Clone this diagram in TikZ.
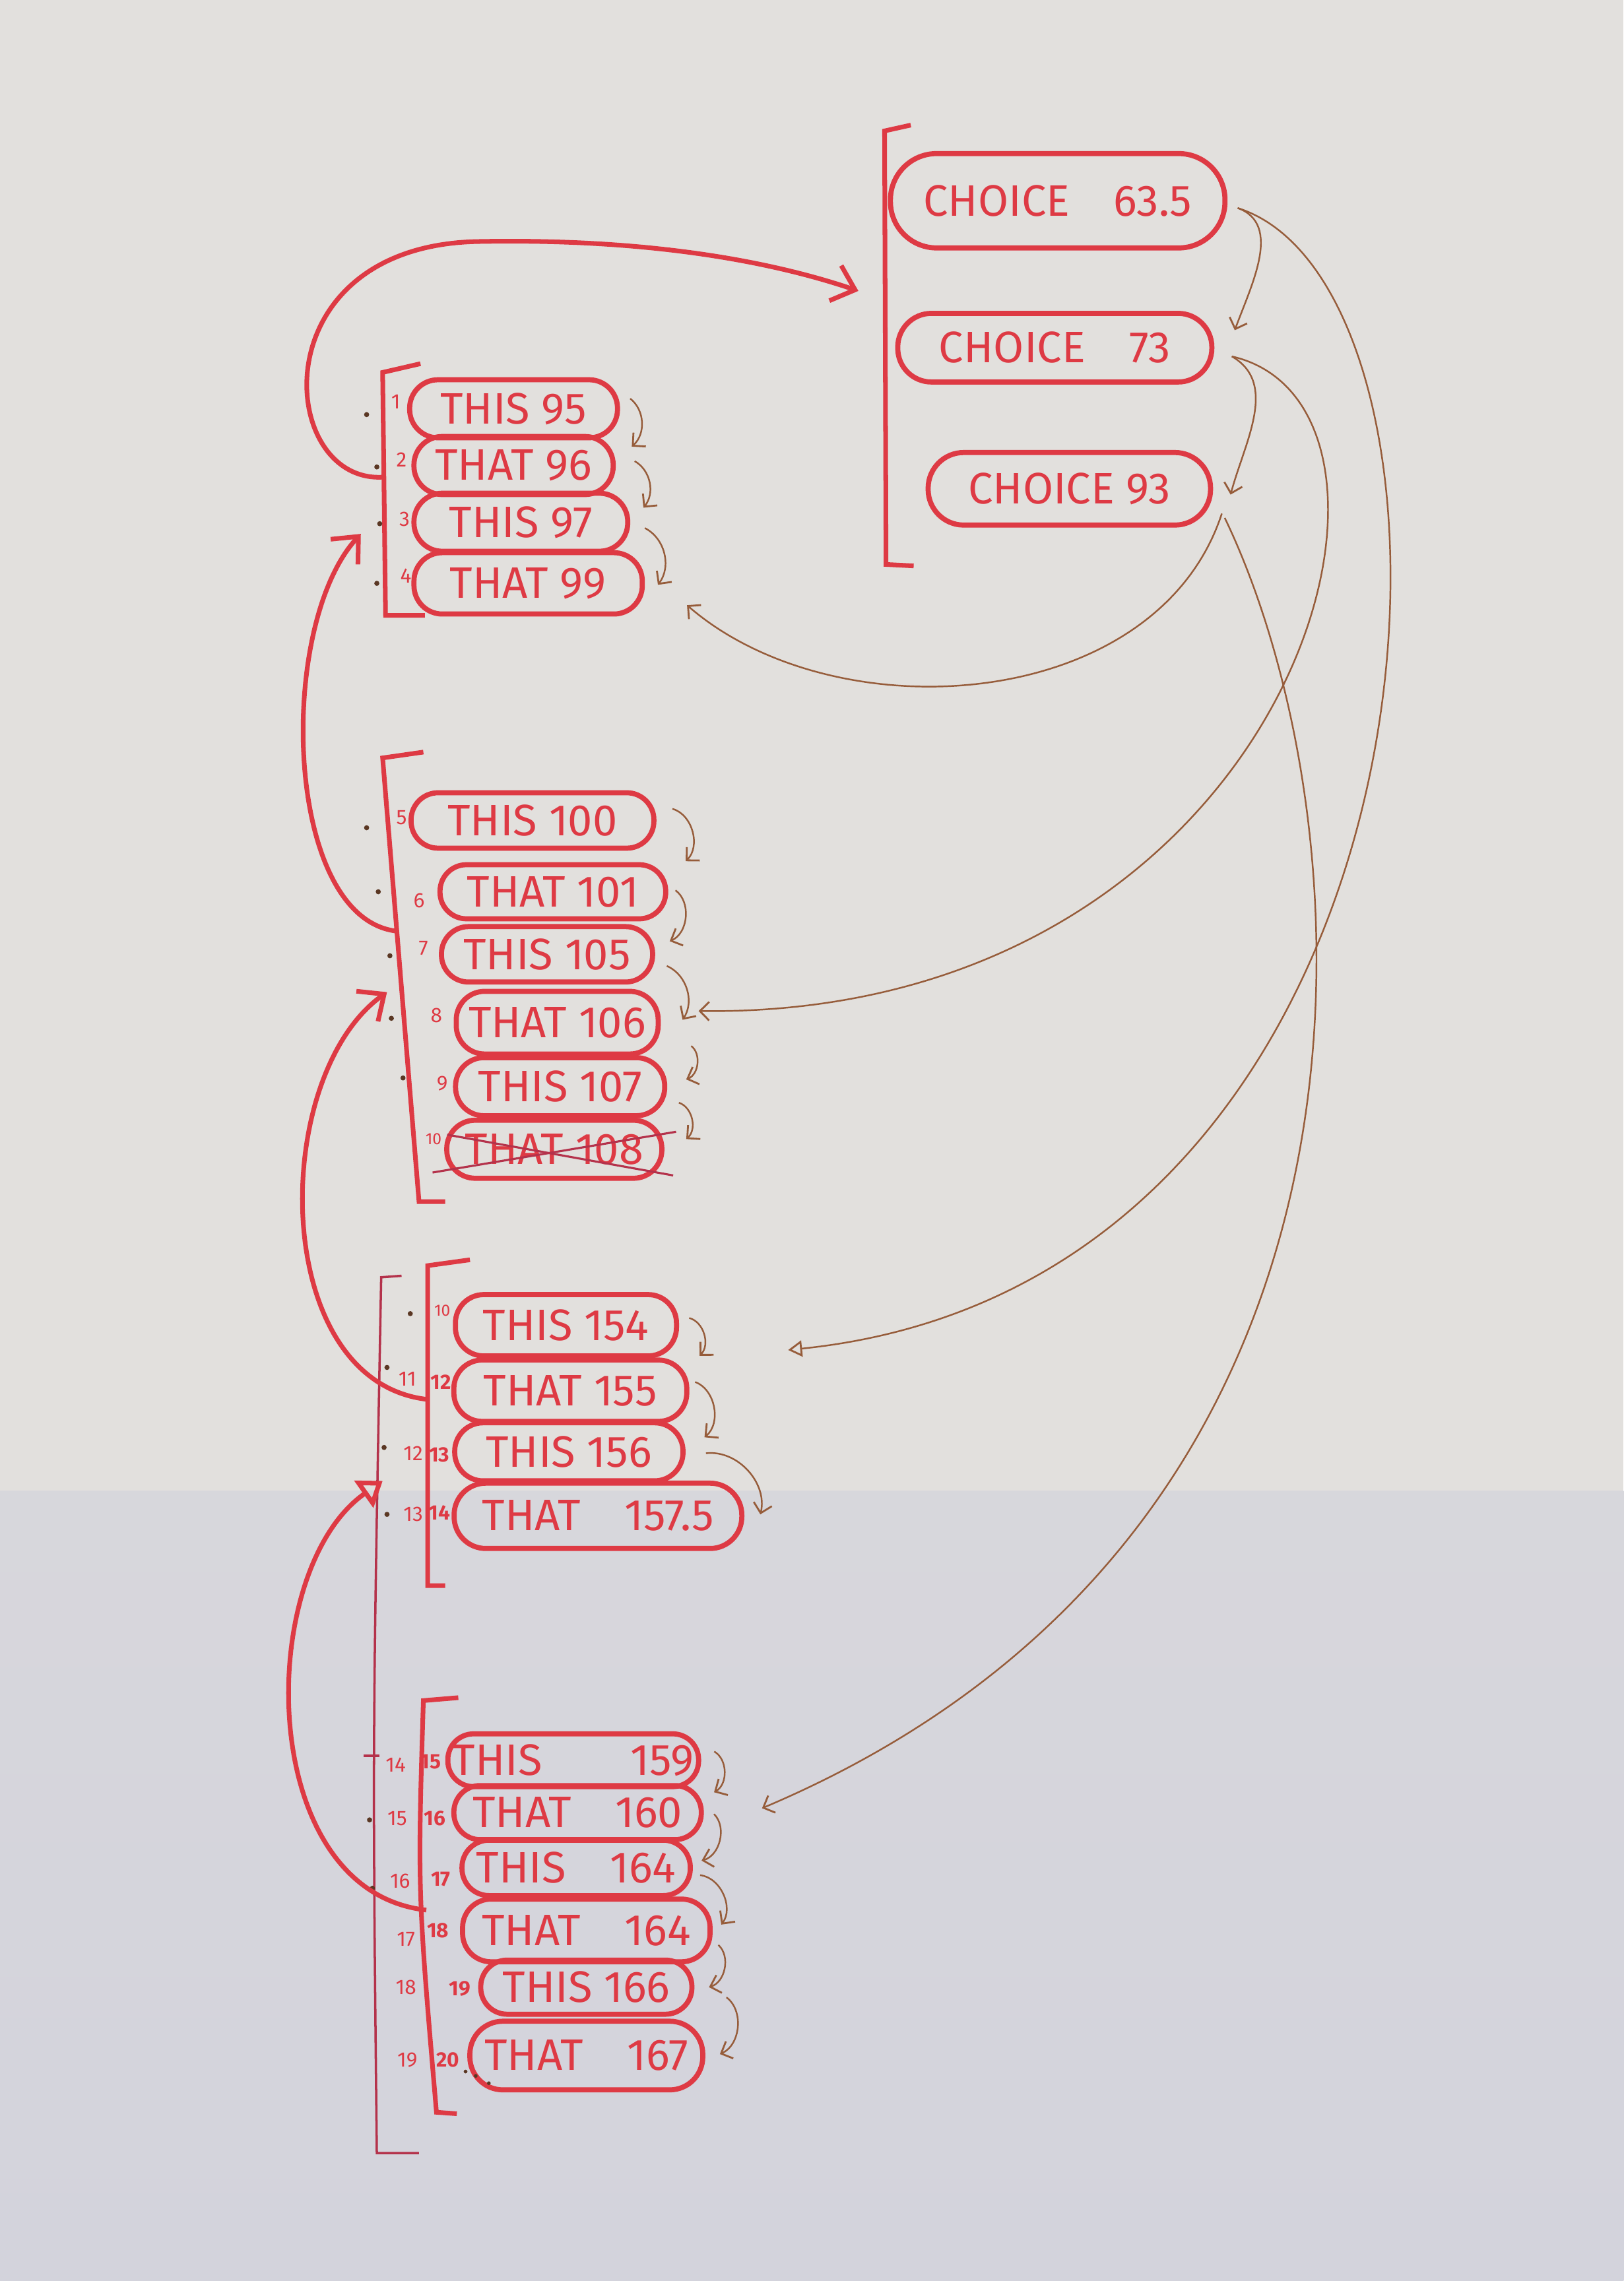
\documentclass[tikz,border=0pt]{standalone}
\usepackage{fontspec}
\setmainfont{Fira Sans}
\usetikzlibrary{arrows.meta, positioning}
\definecolor{penred}{RGB}{222,58,68}
\definecolor{inkred}{RGB}{180,50,75}
\definecolor{pencil}{RGB}{150,92,58}
\definecolor{paper}{RGB}{226,224,221}
\definecolor{paperlow}{RGB}{211,211,220}
\tikzset{
  oval/.style={
    rectangle,
    draw=penred,
    line width=2.2pt,
    rounded corners=0.43cm,
    text=penred,
    font=\fontsize{19}{22}\selectfont,
    minimum height=0.88cm,
    inner sep=2pt
  },
  bracket/.style={
    draw=penred,
    line width=2pt
  },
  bigarrow/.style={
    draw=penred,
    line width=2pt,
    -{Straight Barb[length=9pt,width=16pt,line width=2pt]}
  },
  seqarrow/.style={
    draw=pencil,
    line width=0.7pt,
    -{Straight Barb[length=4pt,width=8pt,line width=0.8pt]}
  },
  idx/.style={text=penred, font=\fontsize{9}{10}\selectfont, inner sep=0pt},
  pendot/.style={circle, fill=pencil!60!black, inner sep=0pt, minimum size=2.2pt}
}

\begin{document}
\begin{tikzpicture}[x=0.022043cm, y=-0.022043cm]
  \useasboundingbox (0,0) rectangle (1116,1568);
  % Paper
  \fill[paper] (0,0) rectangle (1116,1025);
  \shade[top color=paperlow!70!paper, bottom color=paperlow] (0,1025) rectangle (1116,1568);

  % Choices
  \node[oval, minimum width=5.07cm, minimum height=1.43cm, rounded corners=0.7cm] (c635) at (727,138) {CHOICE\quad 63.5};
  \node[oval, minimum width=4.76cm, minimum height=1.04cm, rounded corners=0.51cm] (c73) at (725,239) {CHOICE\quad 73};
  \node[oval, minimum width=4.28cm, minimum height=1.10cm, rounded corners=0.54cm] (c93) at (735,336) {CHOICE 93};

  % First list
  \node[oval, minimum width=3.15cm] (t95) at (353,281) {THIS 95};
  \node[oval, minimum width=3.02cm] (t96) at (353,320) {THAT 96};
  \node[oval, minimum width=3.24cm] (t97) at (358,359) {THIS 97};
  \node[oval, minimum width=3.46cm, minimum height=0.93cm] (t99) at (363,401) {THAT 99};

  % Second list
  \node[oval, minimum width=3.68cm, minimum height=0.84cm, rounded corners=0.41cm] (t100) at (366,564) {THIS 100};
  \node[oval, minimum width=3.42cm, minimum height=0.82cm, rounded corners=0.4cm] (t101) at (380,613) {THAT 101};
  \node[oval, minimum width=3.20cm, minimum height=0.84cm, rounded corners=0.41cm] (t105) at (376,656) {THIS 105};
  \node[oval, minimum width=3.06cm, minimum height=0.95cm] (t106) at (383,703) {THAT 106};
  \node[oval, minimum width=3.17cm] (t107) at (385,747) {THIS 107};
  \node[oval, minimum width=3.26cm] (t108) at (381,790) {THAT 108};

  % Third list
  \node[oval, minimum width=3.35cm, minimum height=0.93cm] (t154) at (389,911) {THIS 154};
  \node[oval, minimum width=3.53cm, minimum height=0.93cm] (t155) at (392,956) {THAT 155};
  \node[oval, minimum width=3.46cm] (t156) at (391,998) {THIS 156};
  \node[oval, minimum width=4.36cm, minimum height=0.99cm, rounded corners=0.48cm] (t157) at (411,1042) {THAT\quad 157.5};

  % Fourth list
  \node[oval, minimum width=3.70cm, minimum height=0.80cm, rounded corners=0.39cm] (t159) at (394,1210) {THIS\qquad 159};
  \node[oval, minimum width=3.75cm, minimum height=0.82cm, rounded corners=0.4cm] (t160) at (397,1246) {THAT\quad 160};
  \node[oval, minimum width=3.46cm, minimum height=0.84cm, rounded corners=0.41cm] (t164a) at (396,1284) {THIS\quad 164};
  \node[oval, minimum width=3.75cm, minimum height=0.95cm] (t164b) at (403,1327) {THAT\quad 164};
  \node[oval, minimum width=3.20cm, minimum height=0.82cm, rounded corners=0.4cm] (t166) at (403,1366) {THIS 166};
  \node[oval, minimum width=3.53cm, minimum height=1.04cm, rounded corners=0.5cm] (t167) at (403,1413) {THAT\quad 167};

  % Crossed out
  \draw[inkred, line width=0.9pt] ([shift={(-8,16)}]t108.west) -- ([shift={(8,-12)}]t108.east);
  \draw[inkred, line width=0.9pt] ([shift={(2,-10)}]t108.west) -- ([shift={(6,18)}]t108.east);

  % Brackets
  \coordinate (k0t) at (608,90);   \coordinate (k0b) at (609,388);
  \coordinate (k1t) at (263,256);  \coordinate (k1b) at (265,423);
  \coordinate (k2t) at (263,521);  \coordinate (k2b) at (288,826);
  \coordinate (k3t) at (294,870);  \coordinate (k3b) at (294,1090);
  \coordinate (k4t) at (291,1169); \coordinate (k4b) at (300,1452);
  \coordinate (k5t) at (262,878);  \coordinate (k5b) at (259,1480);
  \draw[bracket] (626,86) -- (k0t) -- (k0b) -- (628,389);
  \draw[bracket] (289,250) -- (k1t) -- (k1b) -- (292,423);
  \draw[bracket] (291,517) -- (k2t) -- (k2b) -- (306,826);
  \draw[bracket] (323,866) -- (k3t) -- (k3b) -- (306,1090);
  \draw[bracket] (315,1167) -- (k4t) .. controls (287,1300) .. (k4b) -- (314,1453);
  \draw[inkred, line width=1pt] (276,877) -- (k5t) .. controls (256,1200) .. (k5b) -- (288,1480);
  \draw[inkred, line width=1pt] (250,1207) -- (261,1207);

  % Index numbers
  \node[idx] (n1) at (272,276) {1};
  \node[idx] (n2) at (276,316) {2};
  \node[idx] (n3) at (278,357) {3};
  \node[idx] (n4) at (279,396) {4};
  \node[idx] (n5) at (276,562) {5};
  \node[idx] (n6) at (288,619) {6};
  \node[idx] (n7) at (291,652) {7};
  \node[idx] (n8) at (300,698) {8};
  \node[idx] (n9) at (304,745) {9};
  \node[idx, font=\fontsize{7}{8}\selectfont] (n10) at (298,783) {10};
  \node[idx, font=\fontsize{7}{8}\selectfont] (n10b) at (304,901) {10};
  \node[idx] (n11) at (280,948) {11};
  \node[idx] (n12) at (284,999) {12};
  \node[idx] (n13) at (284,1041) {13};
  \node[idx] (n14) at (272,1213) {14};
  \node[idx] (n15) at (273,1250) {15};
  \node[idx] (n16) at (275,1293) {16};
  \node[idx] (n17) at (279,1333) {17};
  \node[idx] (n18) at (279,1366) {18};
  \node[idx] (n19) at (280,1416) {19};
  % Old numbers, written over
  \node[idx, font=\bfseries\fontsize{9}{10}\selectfont] (o12) at (303,950) {12};
  \node[idx, font=\bfseries\fontsize{9}{10}\selectfont] (o13) at (302,1000) {13};
  \node[idx, font=\bfseries\fontsize{9}{10}\selectfont] (o14) at (302,1040) {14};
  \node[idx, font=\bfseries\fontsize{9}{10}\selectfont] (o15) at (296,1211) {15};
  \node[idx, font=\bfseries\fontsize{9}{10}\selectfont] (o16) at (299,1250) {16};
  \node[idx, font=\bfseries\fontsize{9}{10}\selectfont] (o17) at (303,1292) {17};
  \node[idx, font=\bfseries\fontsize{9}{10}\selectfont] (o18) at (301,1327) {18};
  \node[idx, font=\bfseries\fontsize{9}{10}\selectfont] (o19) at (316,1367) {19};
  \node[idx, font=\bfseries\fontsize{9}{10}\selectfont] (o20) at (308,1416) {20};

  % Dots
  \node[pendot] (d1) at (252,285) {};
  \node[pendot] (d2) at (259,321) {};
  \node[pendot] (d3) at (261,360) {};
  \node[pendot] (d4) at (259,401) {};
  \node[pendot] (d5) at (252,569) {};
  \node[pendot] (d6) at (260,613) {};
  \node[pendot] (d7) at (268,657) {};
  \node[pendot] (d8) at (269,700) {};
  \node[pendot] (d9) at (277,741) {};
  \node[pendot] (d10) at (282,903) {};
  \node[pendot] (d11) at (266,940) {};
  \node[pendot] (d12) at (264,995) {};
  \node[pendot] (d13) at (266,1041) {};
  \node[pendot] (d15) at (254,1251) {};
  \node[pendot] (d16) at (256,1298) {};
  \node[pendot, minimum size=1.6pt] (e1) at (320,1424) {};
  \node[pendot, minimum size=1.6pt] (e2) at (327,1427) {};
  \node[pendot, minimum size=1.6pt] (e3) at (336,1432) {};

  % Jumps between the lists
  \coordinate (k1out) at (263,328); \coordinate (k0in) at (590,200);
  \coordinate (k2out) at (272,640); \coordinate (k1in) at (248,367);
  \coordinate (k3out) at (294,962); \coordinate (k2in) at (266,682);
  \coordinate (k4out) at (293,1313); \coordinate (k3in) at (263,1018);
  \draw[bigarrow] (k1out) .. controls (190,332) and (178,168) .. (330,166) .. controls (440,164) and (525,178) .. (k0in);
  \draw[bigarrow] (k2out) .. controls (195,630) and (190,430) .. (k1in);
  \draw[bigarrow] (k3out) .. controls (185,950) and (185,740) .. (k2in);
  \draw[bigarrow, -{Triangle[open, length=10pt, width=14pt, line width=2pt]}] (k4out) .. controls (175,1300) and (175,1080) .. (k3in);

  % Pencil arrows, choices
  \draw[seqarrow] ([shift={(7,5)}]c635.east) to[out=-20, in=70] ([shift={(14,-12)}]c73.east);
  \draw[seqarrow] ([shift={(12,6)}]c73.east) to[out=-30, in=75] ([shift={(12,4)}]c93.east);
  \draw[seqarrow] ([shift={(6,17)}]c93.east) .. controls (795,490) and (575,505) .. ([shift={(29,15)}]t99.east);
  \draw[seqarrow] ([shift={(12,6)}]c73.east) .. controls (1000,280) and (890,700) .. ([shift={(26,-8)}]t106.east);
  \draw[seqarrow, -{Triangle[open, length=6pt, width=7pt, line width=0.8pt]}] ([shift={(7,5)}]c635.east) .. controls (1030,200) and (1010,880) .. ([shift={(75,17)}]t154.east);
  \draw[seqarrow] ([shift={(8,20)}]c93.east) .. controls (940,560) and (980,1050) .. ([shift={(40,-3)}]t160.east);

  % Pencil arrows, first list
  \draw[seqarrow] ([shift={(7,-7)}]t95.east) to[bend left=50] ([shift={(11,-13)}]t96.east);
  \draw[seqarrow] ([shift={(13,-3)}]t96.east) to[bend left=50] ([shift={(9,-10)}]t97.east);
  \draw[seqarrow] ([shift={(10,4)}]t97.east) to[bend left=50] ([shift={(9,1)}]t99.east);

  % Pencil arrows, second list
  \draw[seqarrow] ([shift={(11,-8)}]t100.east) to[bend left=60] ([shift={(12,-21)}]t101.east);
  \draw[seqarrow] ([shift={(5,-1)}]t101.east) to[bend left=60] ([shift={(10,-9)}]t105.east);
  \draw[seqarrow] ([shift={(8,8)}]t105.east) to[bend left=50] ([shift={(15,-2)}]t106.east);
  \draw[seqarrow] ([shift={(21,16)}]t106.east) to[bend left=60] ([shift={(13,-5)}]t107.east);
  \draw[seqarrow] ([shift={(8,11)}]t107.east) to[bend left=60] ([shift={(15,-7)}]t108.east);

  % Pencil arrows, third list
  \draw[seqarrow] ([shift={(7,-5)}]t154.east) to[bend left=60] ([shift={(7,-24)}]t155.east);
  \draw[seqarrow] ([shift={(4,-6)}]t155.east) to[bend left=60] ([shift={(13,-10)}]t156.east);
  \draw[seqarrow] ([shift={(14,1)}]t156.east) to[bend left=55] ([shift={(11,-1)}]t157.east);

  % Pencil arrows, fourth list
  \draw[seqarrow] ([shift={(9,-6)}]t159.east) to[bend left=60] ([shift={(7,-14)}]t160.east);
  \draw[seqarrow] ([shift={(7,1)}]t160.east) to[bend left=60] ([shift={(6,-5)}]t164a.east);
  \draw[seqarrow] ([shift={(5,5)}]t164a.east) to[bend left=60] ([shift={(6,-4)}]t164b.east);
  \draw[seqarrow] ([shift={(4,10)}]t164b.east) to[bend left=60] ([shift={(10,0)}]t166.east);
  \draw[seqarrow] ([shift={(22,7)}]t166.east) to[bend left=60] ([shift={(10,-1)}]t167.east);
\end{tikzpicture}
\end{document}
